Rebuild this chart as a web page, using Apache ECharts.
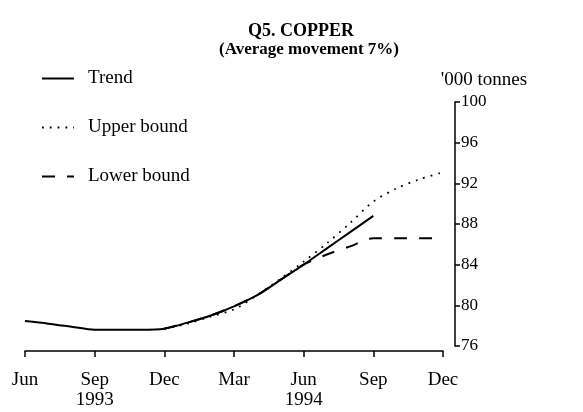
<!DOCTYPE html>
<html>
<head>
<meta charset="utf-8">
<script src="https://cdn.jsdelivr.net/npm/echarts@6/dist/echarts.min.js"></script>
<style>
  html, body { margin: 0; padding: 0; background: #fff; }
  #chart { width: 583px; height: 412px; }
</style>
</head>
<body>
<div id="chart"></div>
<script>
// Months from Jun 1993 to Dec 1994
const months = ['Jun', 'Jul', 'Aug', 'Sep\n1993', 'Oct', 'Nov', 'Dec',
                'Jan', 'Feb', 'Mar', 'Apr', 'May', 'Jun\n1994', 'Jul', 'Aug', 'Sep',
                'Oct', 'Nov', 'Dec'];

// '000 tonnes
const trend = [78.45, 78.2, 77.9, 77.6, 77.6, 77.6, 77.7,
               78.3, 79.0, 79.9, 81.0, 82.5, 84.0, 85.6, 87.2, 88.8,
               null, null, null];
const upperBound = [null, null, null, null, null, null, 77.7,
                    78.2, 78.9, 79.6, 81.0, 82.6, 84.3, 86.1, 88.1, 90.2,
                    91.5, 92.4, 93.1];
const lowerBound = [null, null, null, null, null, null, 77.7,
                    78.3, 79.0, 79.9, 81.0, 82.5, 84.0, 85.0, 85.8, 86.6,
                    86.6, 86.6, 86.6];

const yTicks = { min: 76, max: 100, step: 4 };

const serif = '"Liberation Serif", "DejaVu Serif", serif';
const chart = echarts.init(document.getElementById('chart'));

chart.setOption({
  backgroundColor: '#fff',
  animation: false,
  title: [
    {
      text: 'Q5. COPPER',
      left: 296,
      top: 17,
      textAlign: 'center',
      textStyle: { fontFamily: serif, fontWeight: 'bold', fontSize: 18, color: '#000' }
    },
    {
      text: '(Average movement 7%)',
      left: 304,
      top: 36,
      textAlign: 'center',
      textStyle: { fontFamily: serif, fontWeight: 'bold', fontSize: 17, color: '#000' }
    }
  ],
  legend: {
    orient: 'vertical',
    left: 36,
    top: 64,
    itemWidth: 32,
    itemHeight: 18,
    itemGap: 30,
    itemStyle: { opacity: 0 },
    textStyle: { fontFamily: serif, fontSize: 19, color: '#000', padding: [0, 0, 0, 9] },
    data: ['Trend', 'Upper bound', 'Lower bound']
  },
  grid: { left: 25, right: 140, top: 102, bottom: 66 },
  xAxis: {
    type: 'category',
    data: months,
    boundaryGap: false,
    offset: 5,
    axisLine: { lineStyle: { color: '#000', width: 1.5 } },
    axisTick: { interval: 2, length: 6, lineStyle: { color: '#000', width: 1.5 } },
    axisLabel: {
      interval: 2,
      margin: 19,
      fontFamily: serif,
      fontSize: 19,
      lineHeight: 20,
      color: '#000'
    },
    splitLine: { show: false }
  },
  yAxis: {
    type: 'value',
    position: 'right',
    offset: 12,
    min: yTicks.min,
    max: yTicks.max,
    interval: yTicks.step,
    name: "'000 tonnes",
    nameLocation: 'end',
    nameGap: 12,
    nameTextStyle: { fontFamily: serif, fontSize: 19, color: '#000', align: 'center', padding: [0, 0, 0, 58] },
    axisLine: { show: true, lineStyle: { color: '#000', width: 1.5 } },
    axisTick: { show: true, length: 5, lineStyle: { color: '#000', width: 1.5 } },
    axisLabel: { margin: 6, fontFamily: serif, fontSize: 17, color: '#000' },
    splitLine: { show: false }
  },
  series: [
    {
      name: 'Trend',
      type: 'line',
      data: trend,
      symbol: 'none',
      smooth: 0.3,
      lineStyle: { color: '#000', width: 2, type: 'solid' },
      itemStyle: { color: '#000' }
    },
    {
      name: 'Upper bound',
      type: 'line',
      data: upperBound,
      symbol: 'none',
      smooth: 0.3,
      lineStyle: { color: '#000', width: 1.8, type: [1.8, 6] },
      itemStyle: { color: '#000' }
    },
    {
      name: 'Lower bound',
      type: 'line',
      data: lowerBound,
      symbol: 'none',
      smooth: 0.3,
      lineStyle: { color: '#000', width: 2, type: [13, 12] },
      itemStyle: { color: '#000' }
    }
  ]
});
</script>
</body>
</html>
